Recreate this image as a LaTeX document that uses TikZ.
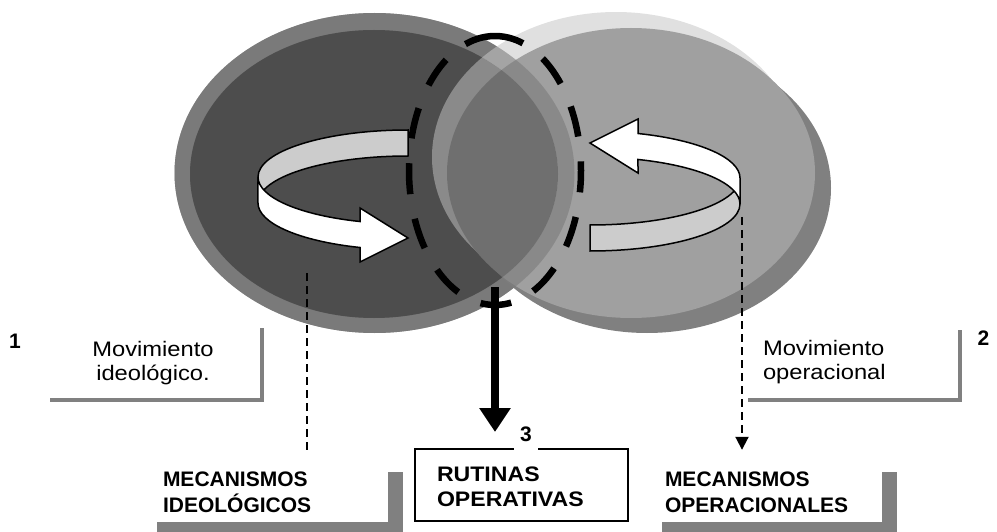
\documentclass[tikz,border=0pt]{standalone}
\usepackage{fontspec}
\setmainfont{Liberation Sans}
\newfontfamily\widesans[FakeStretch=1.13]{Liberation Sans}
\newfontfamily\boxsans[FakeStretch=1.1]{Liberation Sans}
\usetikzlibrary{arrows.meta,shadows}

\definecolor{leftouter}{HTML}{7A7A7A}
\definecolor{leftinner}{HTML}{4D4D4D}
\definecolor{rightlight}{HTML}{E0E0E0}
\definecolor{rightmain}{HTML}{A0A0A0}
\definecolor{rightshadow}{HTML}{808080}
\definecolor{ribbongray}{HTML}{CCCCCC}
\definecolor{boxshadow}{HTML}{808080}

% extra room above the first line of a label
\newcommand{\lift}[1]{\rule{0pt}{#1}}

\tikzset{
  ribbonline/.style={draw=black, line width=1.5pt, line join=miter},
  % a loop-shaped band: back half in grey, front half in white ending in a head
  ribbon/.pic={
    \path[ribbonline, fill=ribbongray]
      (0,-47) arc[start angle=270, end angle=180, x radius=150, y radius=47]
      -- (-150,26) arc[start angle=180, end angle=270, x radius=150, y radius=47]
      -- cycle;
    \path[ribbonline, fill=white]
      (-150,0) arc[start angle=180, end angle=108.66, x radius=150, y radius=47]
      -- (-48,31) -- (0,61) -- (-48,85) -- (-48,70.5)
      arc[start angle=108.66, end angle=180, x radius=150, y radius=47]
      -- cycle;
  },
  plaintext/.style={font=\fontsize{21}{24}\selectfont\widesans, inner ysep=0pt},
  captext/.style={font=\fontsize{21}{26}\selectfont\bfseries, align=left, inner ysep=0pt},
  numtext/.style={font=\fontsize{21}{25}\selectfont\bfseries, inner sep=0pt},
  thinshadow/.style={fill=white, drop shadow={shadow xshift=4pt, shadow yshift=-4pt, fill=boxshadow, opacity=1}},
  thickshadow/.style={fill=white, drop shadow={shadow xshift=15pt, shadow yshift=-15pt, fill=boxshadow, opacity=1}},
  droplink/.style={line width=2pt, dash pattern=on 8pt off 5pt},
}

\begin{document}
\begin{tikzpicture}[x=1pt, y=-1pt]
\useasboundingbox (0,0) rectangle (997,532);

% left circle (ideological movement)
\fill[leftouter] (374.5,173) ellipse [x radius=200, y radius=160];
\fill[leftinner] (374,174) ellipse [x radius=184, y radius=144];

% right circle (operational movement)
\fill[rightshadow] (647,188) ellipse [x radius=184, y radius=145];
\fill[rightlight] (616,157) ellipse [x radius=184, y radius=145];
\fill[rightmain] (631,173) ellipse [x radius=184, y radius=145];

% the left circle shows through in the shared area
\fill[leftouter, even odd rule, opacity=0.58]
  (374.5,173) ellipse [x radius=200, y radius=160]
  (374,174) ellipse [x radius=184, y radius=144];
\fill[leftinner, opacity=0.58] (374,174) ellipse [x radius=184, y radius=144];

% turning arrows
\path (408,177) pic {ribbon};
\path (590,204) pic[rotate=180] {ribbon};

% dashed ring around the shared area
\coordinate (ringtop) at (495,36);
\coordinate (ringdrop) at (495,287);
\draw[line width=6.5pt, dash pattern=on 31pt off 25pt]
  (ringtop) arc[start angle=270, end angle=-90, x radius=86, y radius=134.5];

% free ends of the thin links
\coordinate (leftdrop) at (307,273);
\coordinate (rightdrop) at (742,217);

% labels of the two movements
\node[plaintext, thinshadow, align=center, minimum width=214pt, minimum height=74pt]
  (movI) at (153,361) {\lift{19pt}Movimiento\\ideológico.};
\node[plaintext, thinshadow, align=left, text width=176pt, inner xsep=19pt, minimum height=72pt]
  (movO) at (851,362) {Movimiento\\operacional};

\node[numtext] (n1) at (15,341) {1};
\node[numtext] (n2) at (983.5,338.5) {2};

% resulting mechanisms
\node[captext, thickshadow, text width=204pt, inner xsep=21pt, minimum height=65pt]
  (mechI) at (265,489.5) {\lift{21pt}MECANISMOS\\IDEOLÓGICOS};
\node[captext, thickshadow, text width=199pt, inner xsep=18pt, minimum height=65pt]
  (mechO) at (764.5,489.5) {\lift{21pt}MECANISMOS\\OPERACIONALES};

\node[draw=black, line width=2pt, fill=white, font=\fontsize{21}{25}\selectfont\boxsans\bfseries,
      align=left, text width=169pt, inner xsep=22pt, inner ysep=0pt, minimum height=72pt]
  (rutinas) at (521.5,485) {\lift{19pt}RUTINAS\\OPERATIVAS};
\node[numtext, fill=white, inner xsep=6.5pt, inner ysep=9pt] (n3) at (526,434.5) {3};

% links
\draw[droplink, shorten >=5pt] (leftdrop) -- (leftdrop |- mechI.north);
\draw[droplink, shorten >=7pt, -{Triangle[length=13pt, width=13pt]}]
  (rightdrop) -- (rightdrop |- mechO.north);
\draw[line width=8pt, shorten >=16pt, -{Triangle[length=24pt, width=30pt]}]
  (ringdrop) -- (ringdrop |- rutinas.north);
\end{tikzpicture}
\end{document}
